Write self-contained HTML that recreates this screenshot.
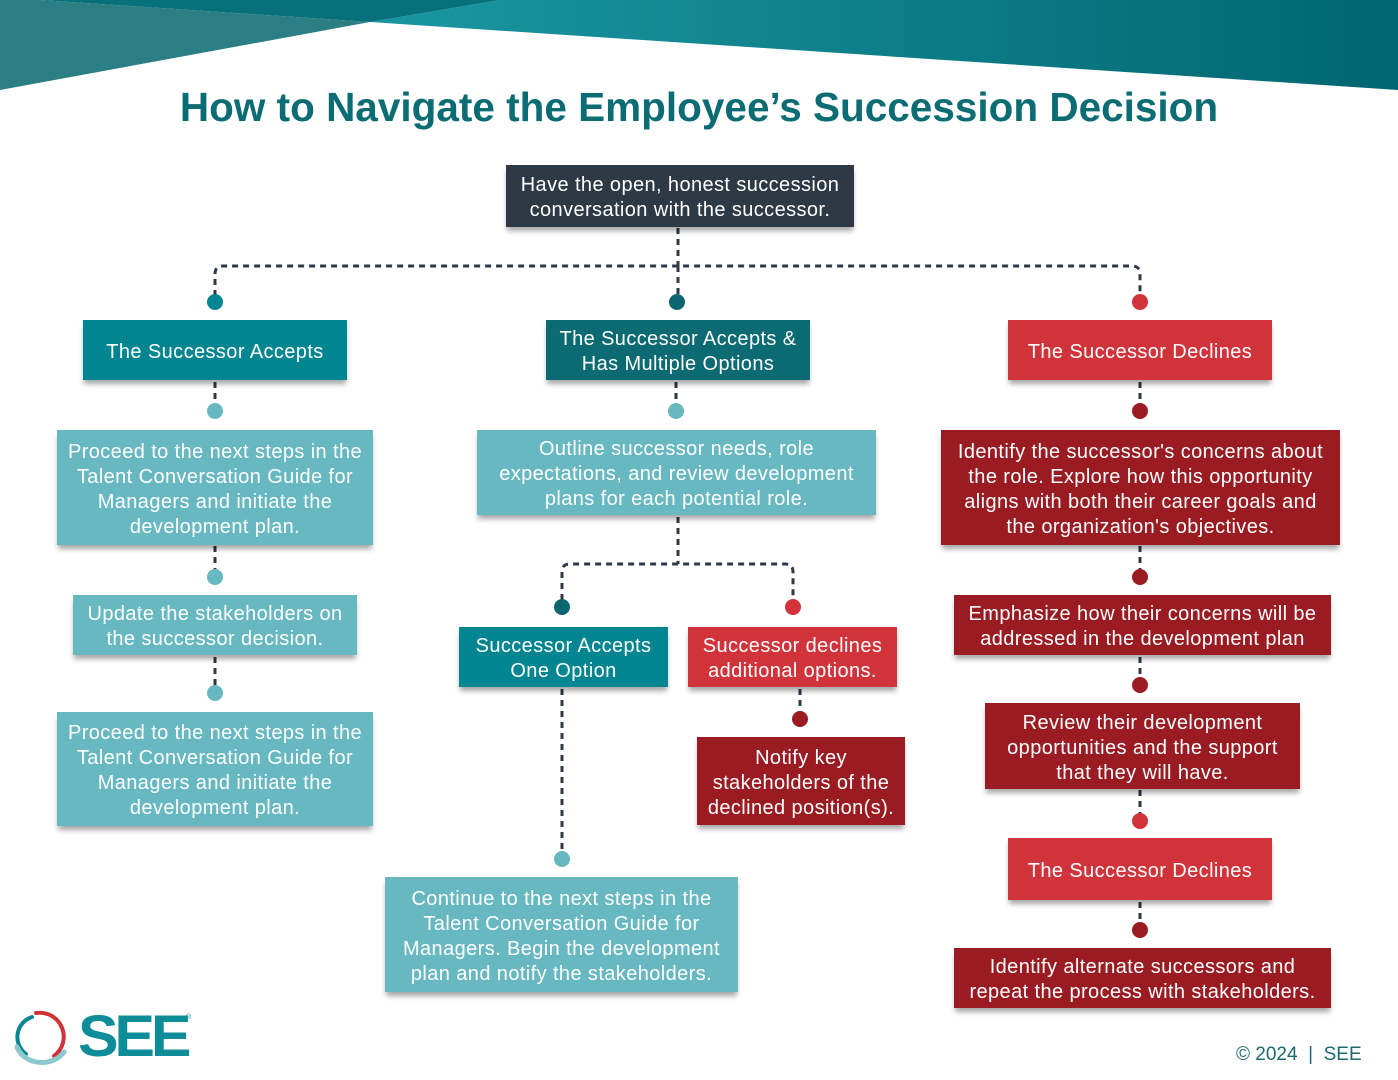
<!DOCTYPE html>
<html><head><meta charset="utf-8">
<style>
html,body{margin:0;padding:0;background:#fff;}
#c{position:relative;width:1398px;height:1080px;overflow:hidden;font-family:"Liberation Sans",Arial,sans-serif;}
.b{position:absolute;box-sizing:border-box;padding-top:4px;display:flex;align-items:center;justify-content:center;text-align:center;color:#fff;font-size:20px;line-height:25px;letter-spacing:0.4px;white-space:nowrap;box-shadow:0 5px 5px -1px rgba(0,0,0,0.35);}
.h{font-size:20px;}
.t1{background:#008591;}
.t2{background:#0c6a72;}
.lt{background:#67b8c0;}
.nv{background:#2d3945;}
.rd{background:#d0333a;}
.dr{background:#9a1c22;}
#title{position:absolute;left:0;width:1398px;top:84px;text-align:center;font-weight:bold;font-size:40.5px;color:#0c6c74;white-space:nowrap;}
#foot{position:absolute;left:1236px;top:1044px;font-size:19px;color:#1d6a72;white-space:nowrap;}
</style></head><body><div id="c">
<svg width="1398" height="1080" style="position:absolute;left:0;top:0">
<defs><linearGradient id="g" x1="0" x2="1" y1="0" y2="0"><stop offset="0" stop-color="#1a97a2"/><stop offset="1" stop-color="#006670"/></linearGradient></defs>
<polygon points="370,22 500,0 1398,0 1398,90" fill="url(#g)"/>
<polygon points="40,0 500,0 370,22" fill="#07707a"/>
<polygon points="0,0 40,0 370,22 0,90" fill="#2a7e84"/>
<g fill="none" stroke="#2d3945" stroke-width="3" stroke-dasharray="6,5">
<path d="M678 228 V266"/>
<path d="M215 296 V274 Q215 266 223 266 H1132 Q1140 266 1140 274 V296"/>
<path d="M678 266 V296"/>
<path d="M215 382 V405 M676 382 V405 M1140 382 V405"/>
<path d="M215 546 V570 M215 657 V687"/>
<path d="M678 517 V564"/>
<path d="M562 600 V572 Q562 564 570 564 H785 Q793 564 793 572 V600"/>
<path d="M800 689 V712"/>
<path d="M562 689 V852"/>
<path d="M1140 546 V570 M1140 657 V678 M1140 790 V814 M1140 902 V923"/>
</g>
<g>
<circle cx="215" cy="302" r="8" fill="#008591"/>
<circle cx="677" cy="302" r="8" fill="#0c6670"/>
<circle cx="1140" cy="302" r="8" fill="#d0333a"/>
<circle cx="215" cy="411" r="8" fill="#67b8c0"/>
<circle cx="676" cy="411" r="8" fill="#67b8c0"/>
<circle cx="1140" cy="411" r="8" fill="#9a1c22"/>
<circle cx="215" cy="577" r="8" fill="#67b8c0"/>
<circle cx="215" cy="693" r="8" fill="#67b8c0"/>
<circle cx="562" cy="607" r="8" fill="#0c6670"/>
<circle cx="793" cy="607" r="8" fill="#d0333a"/>
<circle cx="800" cy="719" r="8" fill="#9a1c22"/>
<circle cx="562" cy="859" r="8" fill="#67b8c0"/>
<circle cx="1140" cy="577" r="8" fill="#9a1c22"/>
<circle cx="1140" cy="685" r="8" fill="#9a1c22"/>
<circle cx="1140" cy="821" r="8" fill="#d0333a"/>
<circle cx="1140" cy="930" r="8" fill="#9a1c22"/>
</g>
<g fill="none" stroke-linecap="round">
<path d="M36 1013 A24 24 0 0 1 54 1056" stroke="#d0333a" stroke-width="4"/>
<path d="M32 1017 A21 21 0 0 0 26 1054" stroke="#0b8591" stroke-width="4"/>
<path d="M17 1047 A26 22 0 0 0 64 1052" stroke="#8cc9cf" stroke-width="5"/>
</g>
</svg>
<div style="position:absolute;left:78px;top:1004px;font-size:58px;font-weight:bold;color:#0e8d98;letter-spacing:-4px;line-height:66px;transform:scaleX(1.05);transform-origin:left">SEE</div>
<div style="position:absolute;left:186px;top:1014px;font-size:7px;color:#0e8d98">®</div>
<div id="title">How to Navigate the Employee’s Succession Decision</div>

<div class="b nv" style="left:506px;top:165px;width:348px;height:62px">Have the open, honest succession<br>conversation with the successor.</div>

<div class="b t1 h" style="left:83px;top:320px;width:264px;height:60px">The Successor Accepts</div>
<div class="b t2 h" style="left:546px;top:320px;width:264px;height:60px">The Successor Accepts &amp;<br>Has Multiple Options</div>
<div class="b rd h" style="left:1008px;top:320px;width:264px;height:60px">The Successor Declines</div>

<div class="b lt" style="left:57px;top:430px;width:316px;height:115px">Proceed to the next steps in the<br>Talent Conversation Guide for<br>Managers and initiate the<br>development plan.</div>
<div class="b lt" style="left:73px;top:595px;width:284px;height:60px">Update the stakeholders on<br>the successor decision.</div>
<div class="b lt" style="left:57px;top:712px;width:316px;height:114px">Proceed to the next steps in the<br>Talent Conversation Guide for<br>Managers and initiate the<br>development plan.</div>

<div class="b lt" style="left:477px;top:430px;width:399px;height:85px">Outline successor needs, role<br>expectations, and review development<br>plans for each potential role.</div>
<div class="b t1" style="left:459px;top:627px;width:209px;height:60px">Successor Accepts<br>One Option</div>
<div class="b rd" style="left:688px;top:627px;width:209px;height:60px">Successor declines<br>additional options.</div>
<div class="b dr" style="left:697px;top:737px;width:208px;height:88px">Notify key<br>stakeholders of the<br>declined position(s).</div>
<div class="b lt" style="left:385px;top:877px;width:353px;height:115px">Continue to the next steps in the<br>Talent Conversation Guide for<br>Managers. Begin the development<br>plan and notify the stakeholders.</div>

<div class="b dr" style="left:941px;top:430px;width:399px;height:115px">Identify the successor's concerns about<br>the role. Explore how this opportunity<br>aligns with both their career goals and<br>the organization's objectives.</div>
<div class="b dr" style="left:954px;top:595px;width:377px;height:60px">Emphasize how their concerns will be<br>addressed in the development plan</div>
<div class="b dr" style="left:985px;top:703px;width:315px;height:86px">Review their development<br>opportunities and the support<br>that they will have.</div>
<div class="b rd h" style="left:1008px;top:838px;width:264px;height:62px">The Successor Declines</div>
<div class="b dr" style="left:954px;top:948px;width:377px;height:60px">Identify alternate successors and<br>repeat the process with stakeholders.</div>

<div id="foot">© 2024 &nbsp;| &nbsp;SEE</div>
</div></body></html>
